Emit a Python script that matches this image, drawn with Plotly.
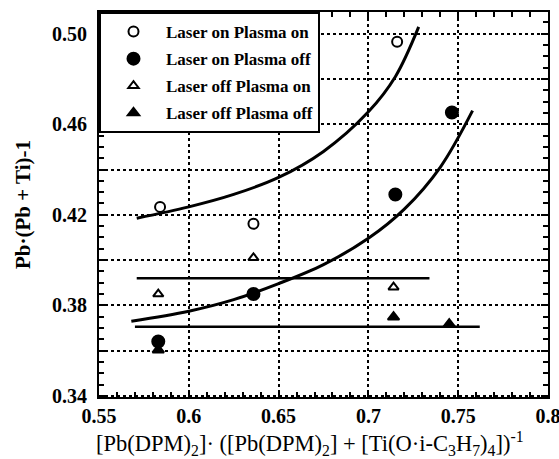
import plotly.graph_objects as go

# ---- data ----
on_on_x = [0.584, 0.636, 0.716]
on_on_y = [0.4235, 0.416, 0.4965]
on_off_x = [0.583, 0.636, 0.715, 0.7465]
on_off_y = [0.364, 0.385, 0.429, 0.4652]
off_on_x = [0.583, 0.636, 0.714]
off_on_y = [0.385, 0.401, 0.388]
off_off_x = [0.583, 0.714, 0.745]
off_off_y = [0.3603, 0.3748, 0.3717]

upper_fit_x = [0.571, 0.60, 0.625, 0.65, 0.675, 0.70, 0.715, 0.728]
upper_fit_y = [0.4185, 0.4235, 0.429, 0.4365, 0.448, 0.4655, 0.481, 0.503]
lower_fit_x = [0.568, 0.60, 0.625, 0.65, 0.675, 0.70, 0.72, 0.74, 0.758]
lower_fit_y = [0.373, 0.3774, 0.3825, 0.3896, 0.398, 0.4096, 0.4225, 0.441, 0.466]
hline1_x = [0.571, 0.734]
hline1_y = [0.392, 0.392]
hline2_x = [0.570, 0.762]
hline2_y = [0.3705, 0.3705]

x_ticks = [0.55, 0.6, 0.65, 0.7, 0.75, 0.8]
x_ticktext = ["0.55", "0.6", "0.65", "0.7", "0.75", "0.8"]
y_ticks = [0.34, 0.36, 0.38, 0.40, 0.42, 0.44, 0.46, 0.48, 0.50]
y_ticktext = ["0.34", "", "0.38", "", "0.42", "", "0.46", "", "0.50"]

names = ["Laser on Plasma on", "Laser on Plasma off",
         "Laser off Plasma on", "Laser off Plasma off"]

x_title = "[Pb(DPM)<sub>2</sub>]· ([Pb(DPM)<sub>2</sub>] + [Ti(O·i-C<sub>3</sub>H<sub>7</sub>)<sub>4</sub>])<sup>-1</sup>"
y_title = "Pb·(Pb + Ti)-1"

SERIF = "Liberation Serif, Times New Roman, serif"

fig = go.Figure()

# fit lines
for xs, ys, w in [(upper_fit_x, upper_fit_y, 3), (lower_fit_x, lower_fit_y, 3),
                  (hline1_x, hline1_y, 2.5), (hline2_x, hline2_y, 2.5)]:
    fig.add_trace(go.Scatter(x=xs, y=ys, mode="lines",
                             line=dict(color="black", width=w, shape="spline", smoothing=1.0),
                             showlegend=False, hoverinfo="skip"))

series = [
    (on_on_x, on_on_y, "circle-open", 10),
    (on_off_x, on_off_y, "circle", 12),
    (off_on_x, off_on_y, "triangle-up-open", 9),
    (off_off_x, off_off_y, "triangle-up", 10),
]
for i, (xs, ys, sym, sz) in enumerate(series):
    fig.add_trace(go.Scatter(
        x=xs, y=ys, mode="markers", name=names[i], legendgroup=f"g{i}",
        marker=dict(symbol=sym, size=sz, color="black", line=dict(color="black", width=2)),
    ))

fig.update_layout(
    width=559, height=459, autosize=False,
    margin=dict(l=99, r=11, t=12, b=62, pad=0, autoexpand=False),
    paper_bgcolor="white", plot_bgcolor="white",
    font=dict(family=SERIF, color="black"),
    showlegend=True,
    legend=dict(x=0, y=1, xanchor="left", yanchor="top",
                bgcolor="white", bordercolor="black", borderwidth=2,
                font=dict(family=SERIF, size=17, color="black", weight="bold"),
                tracegroupgap=2, itemwidth=55),
    annotations=[dict(text=x_title, xref="paper", yref="paper", x=0.47, y=-0.122,
                      xanchor="center", yanchor="middle", showarrow=False,
                      font=dict(family=SERIF, size=22.5, color="black"))],
)

fig.update_xaxes(
    range=[0.55, 0.8], tickvals=x_ticks, ticktext=x_ticktext, automargin=False,
    ticklabeloverflow="allow",
    showline=True, linecolor="black", linewidth=2, mirror="allticks",
    ticks="inside", ticklen=7, tickwidth=1.5, tickcolor="black",
    showgrid=True, gridcolor="black", griddash="dot", gridwidth=1.5,
    zeroline=False,
    tickfont=dict(family=SERIF, size=20, color="black", weight="bold"),
    minor=dict(dtick=0.01, ticks="inside", ticklen=5, tickwidth=1.5, tickcolor="black", showgrid=False),
)
fig.update_yaxes(
    range=[0.3395, 0.5096], tickvals=y_ticks, ticktext=y_ticktext, automargin=False,
    ticklabeloverflow="allow",
    showline=True, linecolor="black", linewidth=2, mirror="allticks",
    ticks="inside", ticklen=7, tickwidth=1.5, tickcolor="black",
    showgrid=True, gridcolor="black", griddash="dot", gridwidth=1.5,
    zeroline=False, ticklabelstandoff=6,
    tickfont=dict(family=SERIF, size=20, color="black", weight="bold"),
    minor=dict(dtick=0.005, ticks="inside", ticklen=5, tickwidth=1.5, tickcolor="black", showgrid=False),
    title=dict(text=y_title, font=dict(family=SERIF, size=21, color="black", weight="bold"), standoff=16),
)

fig.write_html("out.html")
